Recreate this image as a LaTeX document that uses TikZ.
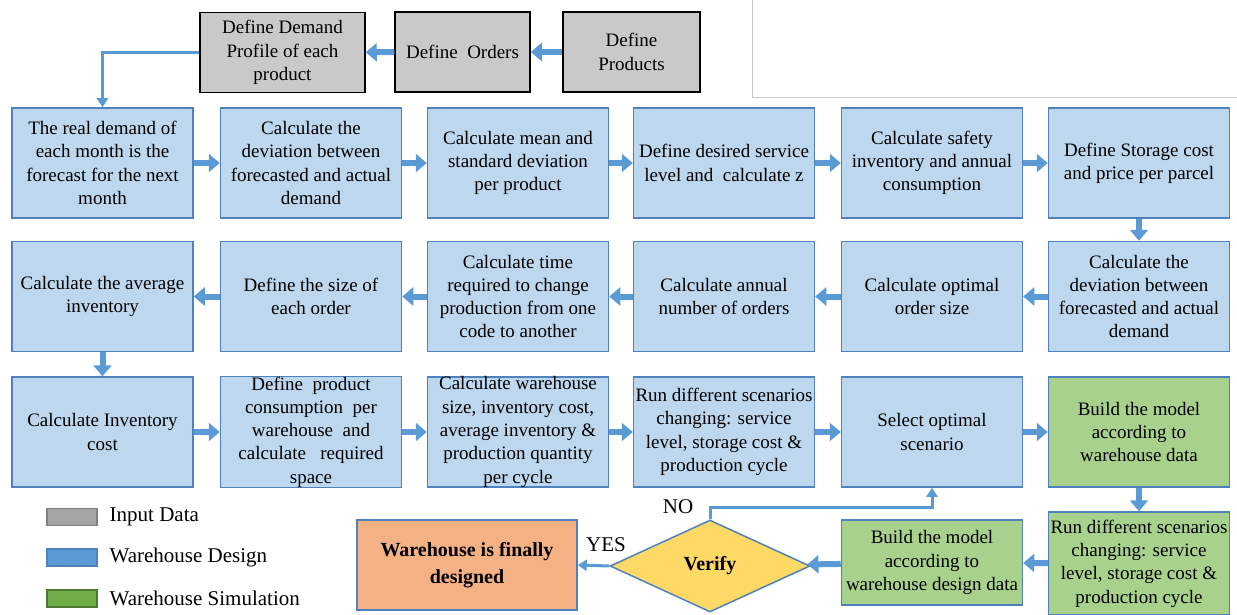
\documentclass[tikz,border=0pt]{standalone}
\usepackage{fontspec}
\setmainfont{Liberation Serif}
\usetikzlibrary{arrows.meta,shapes.geometric,positioning,calc}
\definecolor{boxblue}{HTML}{BDD7EE}
\definecolor{edgeblue}{HTML}{4F81BD}
\definecolor{arrowblue}{HTML}{5B9BD5}
\definecolor{boxgray}{HTML}{C9C9C9}
\definecolor{boxgreen}{HTML}{A9D18E}
\definecolor{boxorange}{HTML}{F4B183}
\definecolor{boxyellow}{HTML}{FFD966}
\definecolor{leggreen}{HTML}{70AD47}
\definecolor{leggray}{HTML}{A5A5A5}
\tikzset{every picture/.style={line width=0.75pt}}
\tikzset{
  basebox/.style={rectangle, draw, line width=1.5pt, align=center, inner xsep=1pt, inner ysep=0pt,
    minimum width=181pt, minimum height=110pt, font=\fontsize{19}{23.3}\selectfont},
  bluebox/.style={basebox, fill=boxblue, draw=edgeblue},
  greenbox/.style={basebox, fill=boxgreen, draw=edgeblue},
  graybox/.style={basebox, fill=boxgray, draw=black, minimum height=80pt},
  flow/.style={draw=arrowblue, line width=6pt, -{Triangle[width=18pt,length=11pt]}},
  thinflow/.style={draw=arrowblue, line width=3pt, -{Triangle[width=11pt,length=9pt]}},
  legbox/.style={rectangle, draw, line width=1.5pt, minimum width=50pt, minimum height=17pt, inner sep=0pt},
  legtext/.style={anchor=west, font=\fontsize{21}{24}\selectfont}
}
\begin{document}
\begin{tikzpicture}[x=1pt,y=-1pt]
    \useasboundingbox (0,0) rectangle (1237,615);
    % thin frame line
    \draw[gray!45, line width=1pt] (752,0) -- (752,98) -- (1237,98);
    % input data
    \node[graybox, minimum width=165pt] (demand) at (282.5,52.5) {Define Demand\\Profile of each\\product};
    \node[graybox, minimum width=135pt] (orders) at (462.5,52) {Define~ Orders};
    \node[graybox, minimum width=137pt] (products) at (631.5,52) {Define\\Products};
    % row 1
    \node[bluebox] (a1) at (102.5,163) {The real demand of\\each month is the\\forecast for the next\\month};
    \node[bluebox] (a2) at (311,163) {Calculate the\\deviation between\\forecasted and actual\\demand};
    \node[bluebox] (a3) at (518,163) {Calculate mean and\\standard deviation\\per product};
    \node[bluebox] (a4) at (724,163) {Define desired service\\level and~ calculate z};
    \node[bluebox] (a5) at (932,163) {Calculate safety\\inventory and annual\\consumption};
    \node[bluebox] (a6) at (1139,163) {Define Storage cost\\and price per parcel};
    % row 2
    \node[bluebox] (b6) at (1139,296.5) {Calculate the\\deviation between\\forecasted and actual\\demand};
    \node[bluebox] (b5) at (932,296.5) {Calculate optimal\\order size};
    \node[bluebox] (b4) at (724,296.5) {Calculate annual\\number of orders};
    \node[bluebox] (b3) at (518,296.5) {Calculate time\\required to change\\production from one\\code to another};
    \node[bluebox] (b2) at (311,296.5) {Define the size of\\each order};
    \node[bluebox] (b1) at (102.5,296.5) {Calculate the average\\inventory};
    % row 3
    \node[bluebox] (c1) at (102.5,432) {Calculate Inventory\\cost};
    \node[bluebox] (c2) at (311,432) {Define~ product\\consumption~ per\\warehouse~ and\\calculate~~ required\\space};
    \node[bluebox] (c3) at (518,432) {Calculate warehouse\\size, inventory cost,\\average inventory \&\\production quantity\\per cycle};
    \node[bluebox] (c4) at (724,432) {Run different scenarios\\changing: service\\level, storage cost \&\\production cycle};
    \node[bluebox] (c5) at (932,432) {Select optimal\\scenario};
    \node[greenbox] (c6) at (1139,432) {Build the model\\according to\\warehouse data};
    % row 4
    \node[greenbox, minimum height=103pt] (run) at (1139,563.5) {Run different scenarios\\changing: service\\level, storage cost \&\\production cycle};
    \node[greenbox, minimum height=85pt] (build) at (932,562.5) {Build the model\\according to\\warehouse design data};
    \node[diamond, draw=edgeblue, fill=boxyellow, line width=1.5pt, minimum width=200pt, minimum height=92pt,
      inner sep=0pt, font=\fontsize{20}{22}\selectfont\bfseries] (verify) at (710,566) {Verify};
    \node[basebox, fill=boxorange, draw=edgeblue, minimum width=220pt, minimum height=90pt,
      font=\fontsize{20}{27}\selectfont\bfseries] (final) at (467,565) {Warehouse is finally\\designed};
    % legend
    \node[legbox, fill=leggray, draw=gray] (legin) at (72,517) {};
    \node[legbox, fill=arrowblue, draw=edgeblue] (legdes) at (72,557.5) {};
    \node[legbox, fill=leggreen, draw=leggreen!70!black] (legsim) at (72,598.5) {};
    \node[legtext] (legintext) at (106,517) {Input Data};
    \node[legtext] (legdestext) at (106,557.5) {Warehouse Design};
    \node[legtext] (legsimtext) at (106,598.5) {Warehouse Simulation};
    % connectors
    \draw[flow] (products) -- (orders);
    \draw[flow] (orders) -- (demand);
    \draw[thinflow] (demand.west) -| (a1.north);
    \foreach \p/\q in {a1/a2,a2/a3,a3/a4,a4/a5,a5/a6,b6/b5,b5/b4,b4/b3,b3/b2,b2/b1,c1/c2,c2/c3,c3/c4,c4/c5,c5/c6,run/build,build/verify}
      \draw[flow] (\p) -- (\q);
    \draw[flow] (a6) -- (b6);
    \draw[flow] (b1) -- (c1);
    \draw[flow] (c6) -- (run);
    \draw[thinflow] (verify.west) -- (final.east);
    \draw[thinflow] (verify.north) -- ++(0,-12) coordinate (nobend) -| (c5.south);
    \node[font=\fontsize{21}{24}\selectfont] (nolabel) at (678,507) {NO};
    \node[font=\fontsize{21}{24}\selectfont] (yeslabel) at (606,545) {YES};
\end{tikzpicture}
\end{document}
